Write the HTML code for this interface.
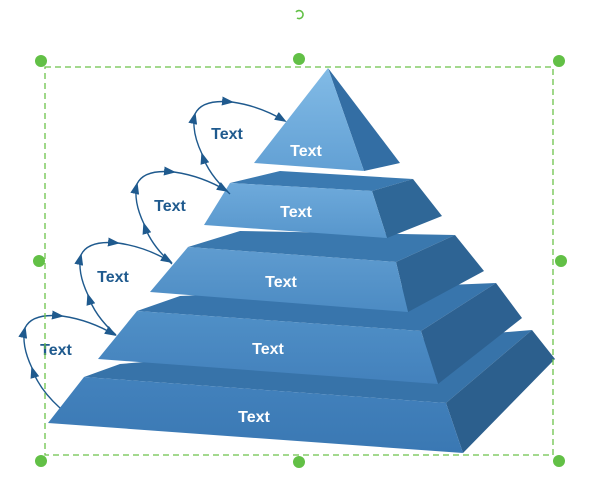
<!DOCTYPE html>
<html><head><meta charset="utf-8"><style>
html,body{margin:0;padding:0;background:#fff;}
svg{display:block;}
text{font-family:"Liberation Sans",sans-serif;font-weight:bold;font-size:16px;}
</style></head><body>
<svg width="600" height="493" viewBox="0 0 600 493" xmlns="http://www.w3.org/2000/svg">
<defs>
<linearGradient id="f1" x1="0" y1="0" x2="0" y2="1"><stop offset="0" stop-color="#82bbe6"/><stop offset="1" stop-color="#62a0d4"/></linearGradient>
<linearGradient id="f2" x1="0" y1="0" x2="0" y2="1"><stop offset="0" stop-color="#6eaadb"/><stop offset="1" stop-color="#5796cc"/></linearGradient>
<linearGradient id="f3" x1="0" y1="0" x2="0" y2="1"><stop offset="0" stop-color="#5f9cd0"/><stop offset="1" stop-color="#4c8bc3"/></linearGradient>
<linearGradient id="f4" x1="0" y1="0" x2="0" y2="1"><stop offset="0" stop-color="#5090c7"/><stop offset="1" stop-color="#4381bc"/></linearGradient>
<linearGradient id="f5" x1="0" y1="0" x2="0" y2="1"><stop offset="0" stop-color="#4382bd"/><stop offset="1" stop-color="#3a78b3"/></linearGradient>
<marker id="ah" markerWidth="12" markerHeight="9" refX="10" refY="4.5" orient="auto" markerUnits="userSpaceOnUse"><path d="M0,0 L12,4.5 L0,9 Z" fill="#1f5a8e"/></marker>
</defs>

<polygon points="84,377 120,364 532,330 446,403" fill="#3773a9"/>
<polygon points="446,403 532,330 555,359 463,453" fill="#2c5f8d"/>
<polygon points="84,377 446,403 463,453 48,423" fill="url(#f5)"/>
<polygon points="137,311 180,296 496,283 421,331" fill="#3875ac"/>
<polygon points="421,331 496,283 522,318 438,384" fill="#2d6191"/>
<polygon points="137,311 421,331 438,384 98,359" fill="url(#f4)"/>
<polygon points="188,247 240,231 455,235 396,262" fill="#3a78ae"/>
<polygon points="396,262 455,235 484,271 408,312" fill="#2e6494"/>
<polygon points="188,247 396,262 408,312 150,292" fill="url(#f3)"/>
<polygon points="230,183 280,171 413,179 372,191" fill="#3b7ab1"/>
<polygon points="372,191 413,179 442,216 387,238" fill="#2f6797"/>
<polygon points="230,183 372,191 387,238 204,225" fill="url(#f2)"/>
<polygon points="328,68 364,171 400,163" fill="#336ea4"/>
<polygon points="328,68 364,171 254,163" fill="url(#f1)"/>

<g fill="#fff">
<text x="306" y="156" text-anchor="middle">Text</text>
<text x="296" y="217" text-anchor="middle">Text</text>
<text x="281" y="287" text-anchor="middle">Text</text>
<text x="268" y="354" text-anchor="middle">Text</text>
<text x="254" y="422" text-anchor="middle">Text</text>
</g>

<g id="loop" fill="none" stroke="#1f5a8e" stroke-width="1.4">
<path d="M60,408 Q38,388 32,368" marker-end="url(#ah)"/>
<path d="M32,368 Q21,345 25,328" marker-end="url(#ah)"/>
<path d="M25,328 Q32,313 62,316" marker-end="url(#ah)"/>
<path d="M62,316 Q90,320 115,335" marker-end="url(#ah)"/>
</g>
<use href="#loop" transform="translate(56,-73)"/>
<use href="#loop" transform="translate(112,-144)"/>
<use href="#loop" transform="translate(170,-214)"/>
<g fill="#1f5a8e">
<text x="56" y="355" text-anchor="middle">Text</text>
<text x="113" y="282" text-anchor="middle">Text</text>
<text x="170" y="211" text-anchor="middle">Text</text>
<text x="227" y="139" text-anchor="middle">Text</text>
</g>

<rect x="45" y="67" width="508" height="388" fill="none" stroke="#6cc24a" stroke-width="1.3" stroke-dasharray="6,4"/>
<g fill="#62c046">
<circle cx="41" cy="61" r="6"/><circle cx="299" cy="59" r="6"/><circle cx="559" cy="61" r="6"/>
<circle cx="39" cy="261" r="6"/><circle cx="561" cy="261" r="6"/>
<circle cx="41" cy="461" r="6"/><circle cx="299" cy="462" r="6"/><circle cx="559" cy="461" r="6"/>
</g>
<path d="M296,12 A4,4 0 1 1 297,18" fill="none" stroke="#62c046" stroke-width="1.6"/>
</svg>
</body></html>
